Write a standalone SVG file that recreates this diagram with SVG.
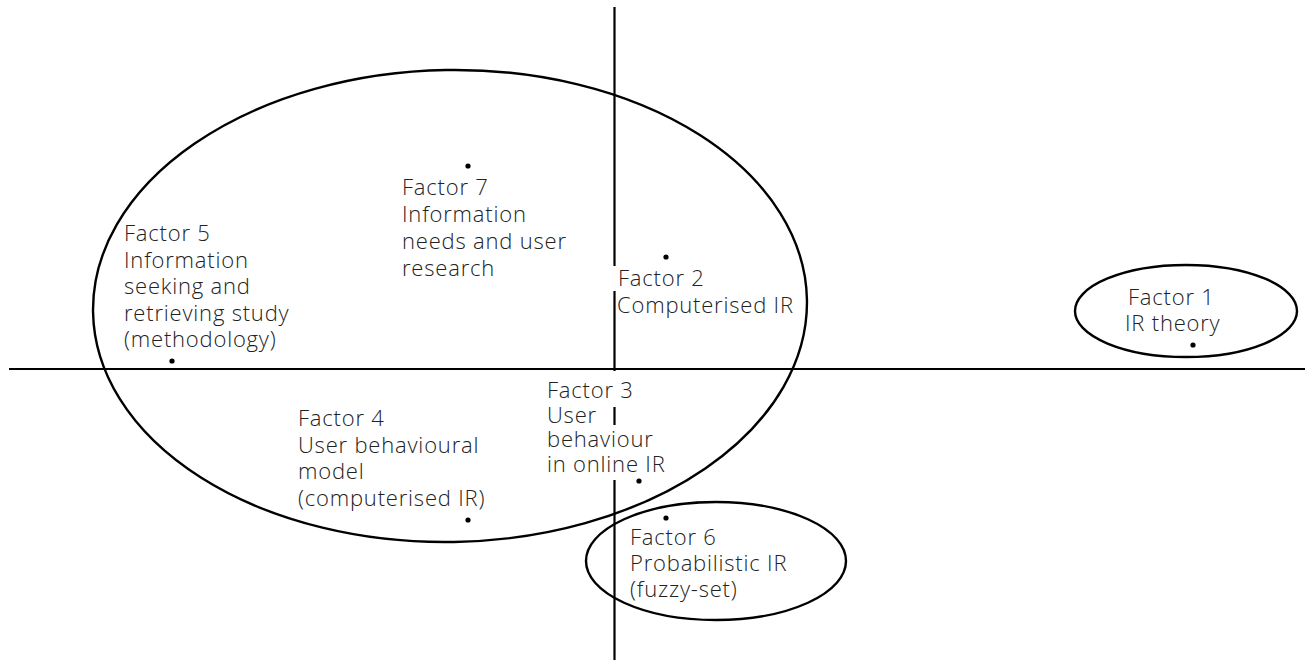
<svg xmlns="http://www.w3.org/2000/svg" width="1309" height="661" viewBox="0 0 1309 661">
  <style>
    .axis { stroke: #000; stroke-width: 2.2; fill: none; }
    .ring { stroke: #000; stroke-width: 2.4; fill: none; }
    .dot { fill: #000; }
    .lbl { font-family: "Open Sans", "Liberation Sans", sans-serif; font-weight: 300; font-size: 22px; letter-spacing: 0.8px; fill: #222; }
  </style>
  <rect width="1309" height="661" fill="#fff"/>

  <!-- axes -->
  <g id="axes">
    <line class="axis" x1="9" y1="369" x2="1305" y2="369"/>
    <line class="axis" x1="614.5" y1="7" x2="614.5" y2="266"/>
    <line class="axis" x1="614.5" y1="291" x2="614.5" y2="371"/>
    <line class="axis" x1="614.5" y1="407" x2="614.5" y2="425"/>
    <line class="axis" x1="614.5" y1="480" x2="614.5" y2="660"/>
  </g>

  <!-- factor clusters -->
  <g id="connectors">
    <ellipse class="ring" cx="450" cy="306" rx="357" ry="236" transform="rotate(-1 450 306)"/>
    <ellipse class="ring" cx="716" cy="561" rx="130" ry="59"/>
    <ellipse class="ring" cx="1186" cy="311" rx="111" ry="46"/>
  </g>

  <g id="factor1">
    <circle class="dot" cx="1193" cy="345" r="2.6"/>
    <text class="lbl" x="1128" y="305">Factor 1</text>
    <text class="lbl" x="1125" y="331">IR theory</text>
  </g>

  <g id="factor2">
    <circle class="dot" cx="666" cy="257" r="2.6"/>
    <text class="lbl" x="618" y="286">Factor 2<tspan x="617" dy="26.5">Computerised IR</tspan></text>
  </g>

  <g id="factor3">
    <circle class="dot" cx="639" cy="481" r="2.6"/>
    <text class="lbl" x="547" y="398">Factor 3<tspan x="547" dy="24.5">User</tspan><tspan x="547" dy="24.5">behaviour</tspan><tspan x="547" dy="24.5">in online IR</tspan></text>
  </g>

  <g id="factor4">
    <circle class="dot" cx="468" cy="520" r="2.6"/>
    <text class="lbl" x="298" y="426">Factor 4<tspan x="298" dy="26.5">User behavioural</tspan><tspan x="298" dy="26.5">model</tspan><tspan x="298" dy="26.5">(computerised IR)</tspan></text>
  </g>

  <g id="factor5">
    <circle class="dot" cx="172" cy="361" r="2.6"/>
    <text class="lbl" x="124" y="241">Factor 5<tspan x="124" dy="26.5">Information</tspan><tspan x="124" dy="26.5">seeking and</tspan><tspan x="124" dy="26.5">retrieving study</tspan><tspan x="124" dy="26.5">(methodology)</tspan></text>
  </g>

  <g id="factor6">
    <circle class="dot" cx="666" cy="518" r="2.6"/>
    <text class="lbl" x="630" y="545">Factor 6<tspan x="630" dy="26">Probabilistic IR</tspan><tspan x="630" dy="26">(fuzzy-set)</tspan></text>
  </g>

  <g id="factor7">
    <circle class="dot" cx="468" cy="166" r="2.6"/>
    <text class="lbl" x="402" y="195">Factor 7<tspan x="402" dy="27">Information</tspan><tspan x="402" dy="27">needs and user</tspan><tspan x="402" dy="27">research</tspan></text>
  </g>
</svg>
